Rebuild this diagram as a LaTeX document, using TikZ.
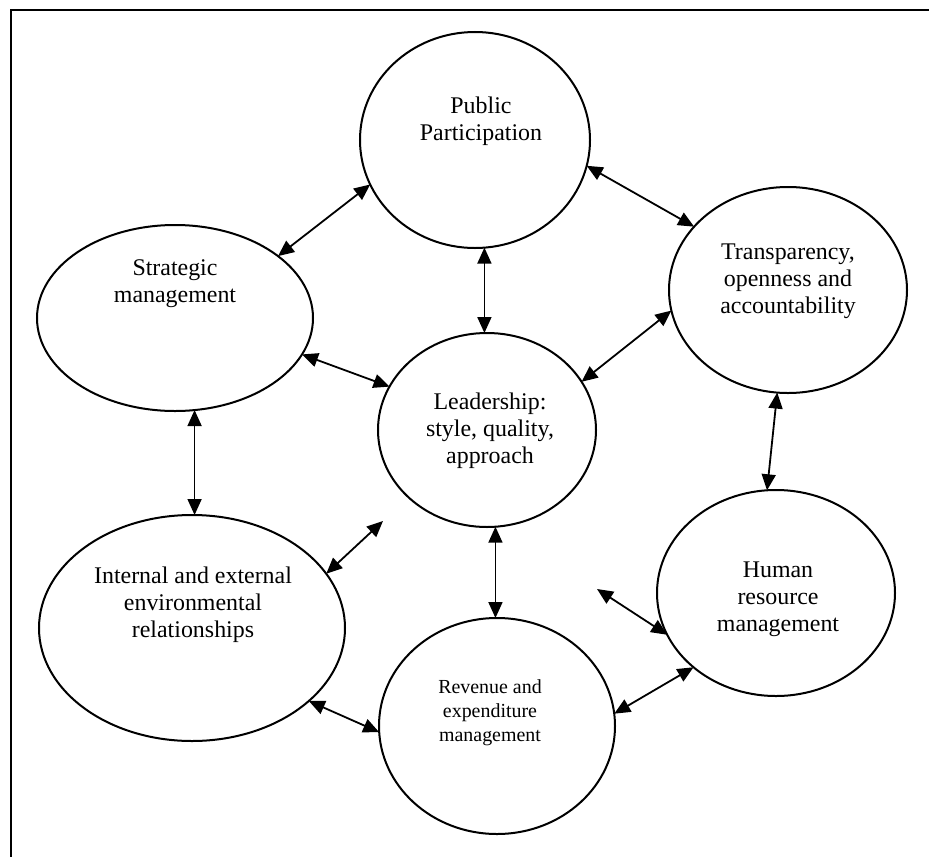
\documentclass[tikz,border=0pt]{standalone}
\usepackage{fontspec}
\setmainfont{Liberation Serif}
\usetikzlibrary{shapes.geometric,arrows.meta}
\begin{document}
\begin{tikzpicture}[x=0.5bp,y=-0.5bp,
  oval/.style={ellipse,draw,line width=1bp,inner sep=0pt,outer sep=0pt},
  label text/.style={align=center,inner sep=0pt,font=\fontsize{12}{13.6}\selectfont},
  small text/.style={align=center,inner sep=0pt,font=\fontsize{10}{12}\selectfont},
  conn/.style={line width=0.9bp,
    {Triangle[length=8bp,width=7bp]}-{Triangle[length=8bp,width=7bp]}}]
\useasboundingbox (0,0) rectangle (929,857);
% frame lines
\draw[line width=1.3bp] (929,10) -- (11,10) -- (11,857);

% ovals
\node[oval,minimum width=115bp,minimum height=108bp] (pub) at (475,140) {};
\node[oval,minimum width=138bp,minimum height=93bp]  (strat) at (175,318) {};
\node[oval,minimum width=119bp,minimum height=103bp] (trans) at (788,290) {};
\node[oval,minimum width=109bp,minimum height=97bp]  (lead) at (487,430) {};
\node[oval,minimum width=153bp,minimum height=113bp] (envr) at (192,628) {};
\node[oval,minimum width=118bp,minimum height=108bp] (rev) at (497,726) {};
\node[oval,minimum width=119bp,minimum height=103bp] (hrm) at (776,593) {};

% texts
\node[label text] (pub-t) at (481,121) {Public\\Participation};
\node[label text] (strat-t) at (175,284) {Strategic\\management};
\node[label text] (trans-t) at (788,281) {Transparency,\\openness and\\accountability};
\node[label text] (lead-t) at (490,431) {Leadership:\\style, quality,\\approach};
\node[label text] (envr-t) at (193,605) {Internal and external\\environmental\\relationships};
\node[small text] (rev-t) at (490,713) {Revenue and\\expenditure\\management};
\node[label text] (hrm-t) at (778,599) {Human\\resource\\management};

% free ends of two connectors below the leadership oval
\coordinate (lead-sw) at (383,521);
\coordinate (lead-se) at (597,589);

% connectors
\draw[conn] (pub.203) -- (strat.31.6);
\draw[conn] (pub.275) -- (pub.275 |- lead.north);
\draw[conn] (pub.347.4) -- (trans.146.3);
\draw[conn] (trans.190.9) -- (lead.27.6);
\draw[conn] (strat.344.7) -- (lead.156.2);
\draw[conn] (strat.282) -- (strat.282 |- envr.north);
\draw[conn] (trans.264) -- (hrm.95.5);
\draw[conn] (lead-sw) -- (envr.22.2);
\draw[conn] (lead.275) -- (lead.275 |- rev.north);
\draw[conn] (lead-se) -- (hrm.201.3);
\draw[conn] (rev.6.8) -- (hrm.222.9);
\draw[conn] (envr.328.2) -- (rev.183.4);
\end{tikzpicture}
\end{document}
